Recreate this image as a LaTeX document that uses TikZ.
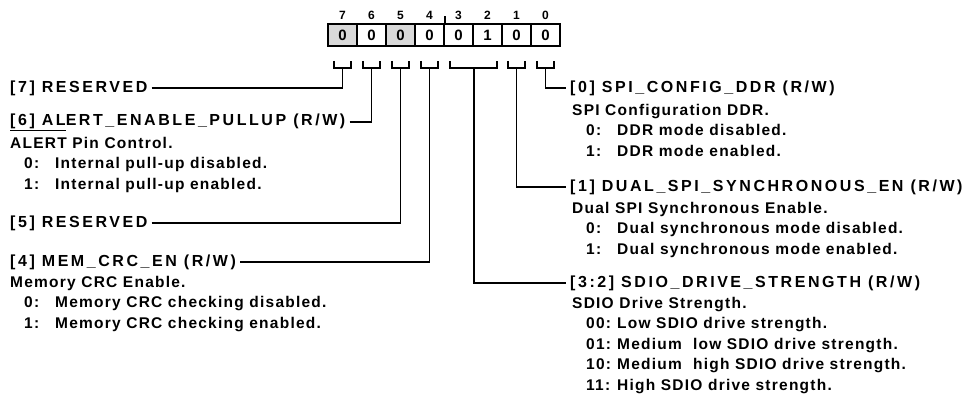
\documentclass[tikz,border=0pt]{standalone}
\usepackage{fontspec}
\setmainfont{Liberation Sans}
\newfontfamily\titlefont{Liberation Sans}[LetterSpace=16]
\newfontfamily\descfont{Liberation Sans}[LetterSpace=8]
\usetikzlibrary{calc}

\newcommand{\opt}[2]{\hspace*{14pt}\makebox[31pt][l]{#1:}#2}

\tikzset{
	bitcell/.style={draw, line width=1.8pt, minimum width=29pt, minimum height=22pt, inner sep=0pt, font=\bfseries\fontsize{15}{15}\selectfont},
	bitnum/.style={inner sep=0pt, font=\bfseries\fontsize{12}{12}\selectfont},
	wire/.style={line width=1.9pt},
	title/.style={inner sep=4pt, font=\titlefont\bfseries\fontsize{16}{16}\selectfont},
	desc/.style={inner sep=0pt, anchor=north west, align=left, font=\descfont\bfseries\fontsize{15.5}{20.5}\selectfont}
}

\begin{document}
\begin{tikzpicture}[x=1pt, y=-1pt]
	\useasboundingbox (0,0) rectangle (967,402);

	% register cells
	\foreach \b/\v/\f [count=\i from 0] in {7/0/gray!30, 6/0/white, 5/0/gray!30, 4/0/white, 3/0/white, 2/1/white, 1/0/white, 0/0/white}{
			\node[bitcell, fill=\f] (c\b) at ({342.5+29*\i},35) {\v};
			\node[bitnum] (n\b) at ({342.5+29*\i},15) {\b};
		}
	\draw[wire] (c4.north east) -- ++(0,-7);

	% bracket feet
	\foreach \b in {7,6,5,4,1,0}{
			\coordinate (k\b) at ($(c\b.south)+(0,21)$);
			\draw[wire] ([xshift=-8.5pt,yshift=7pt]k\b) -- ([xshift=-8.5pt]k\b) -- ([xshift=8.5pt]k\b) -- ([xshift=8.5pt,yshift=7pt]k\b);
		}
	\coordinate (k32) at ($(c3.south east)+(0,21)$);
	\draw[wire] ([xshift=-23.5pt,yshift=7pt]k32) -- ([xshift=-23.5pt]k32) -- ([xshift=23.5pt]k32) -- ([xshift=23.5pt,yshift=7pt]k32);

	% left fields
	\node[title, anchor=west] (t7) at (6,88) {[7] RESERVED};
	\node[title, anchor=west] (t6) at (6,122) {\underline{[6] AL}ERT\_ENABLE\_PULLUP (R/W)};
	\node[desc] (d6) at (10,137) {ALERT Pin Control.\\ \opt{0}{Internal pull-up disabled.}\\ \opt{1}{Internal pull-up enabled.}};
	\node[title, anchor=west] (t5) at (6,223) {[5] RESERVED};
	\node[title, anchor=west] (t4) at (6,262) {[4] MEM\_CRC\_EN (R/W)};
	\node[desc] (d4) at (10,276) {Memory CRC Enable.\\ \opt{0}{Memory CRC checking disabled.}\\ \opt{1}{Memory CRC checking enabled.}};

	% right fields
	\node[title, anchor=west] (t0) at (566,88) {[0] SPI\_CONFIG\_DDR (R/W)};
	\node[desc] (d0) at (572,104) {SPI Configuration DDR.\\ \opt{0}{DDR mode disabled.}\\ \opt{1}{DDR mode enabled.}};
	\node[title, anchor=west] (t1) at (566,187) {[1] DUAL\_SPI\_SYNCHRONOUS\_EN (R/W)};
	\node[desc] (d1) at (572,202) {Dual SPI Synchronous Enable.\\ \opt{0}{Dual synchronous mode disabled.}\\ \opt{1}{Dual synchronous mode enabled.}};
	\node[title, anchor=west] (t32) at (566,283) {[3:2] SDIO\_DRIVE\_STRENGTH (R/W)};
	\node[desc] (d32) at (572,297) {SDIO Drive Strength.\\ \opt{00}{Low SDIO drive strength.}\\ \opt{01}{Medium\ \ low SDIO drive strength.}\\ \opt{10}{Medium\ \ high SDIO drive strength.}\\ \opt{11}{High SDIO drive strength.}};

	% connectors
	\draw[wire] (t7.east) -| (k7);
	\draw[wire] (t6.east) -| (k6);
	\draw[wire] (t5.east) -| (k5);
	\draw[wire] (t4.east) -| (k4);
	\draw[wire] (k0) |- (t0.west);
	\draw[wire] (k1) |- (t1.west);
	\draw[wire] (k32) |- (t32.west);
\end{tikzpicture}
\end{document}
